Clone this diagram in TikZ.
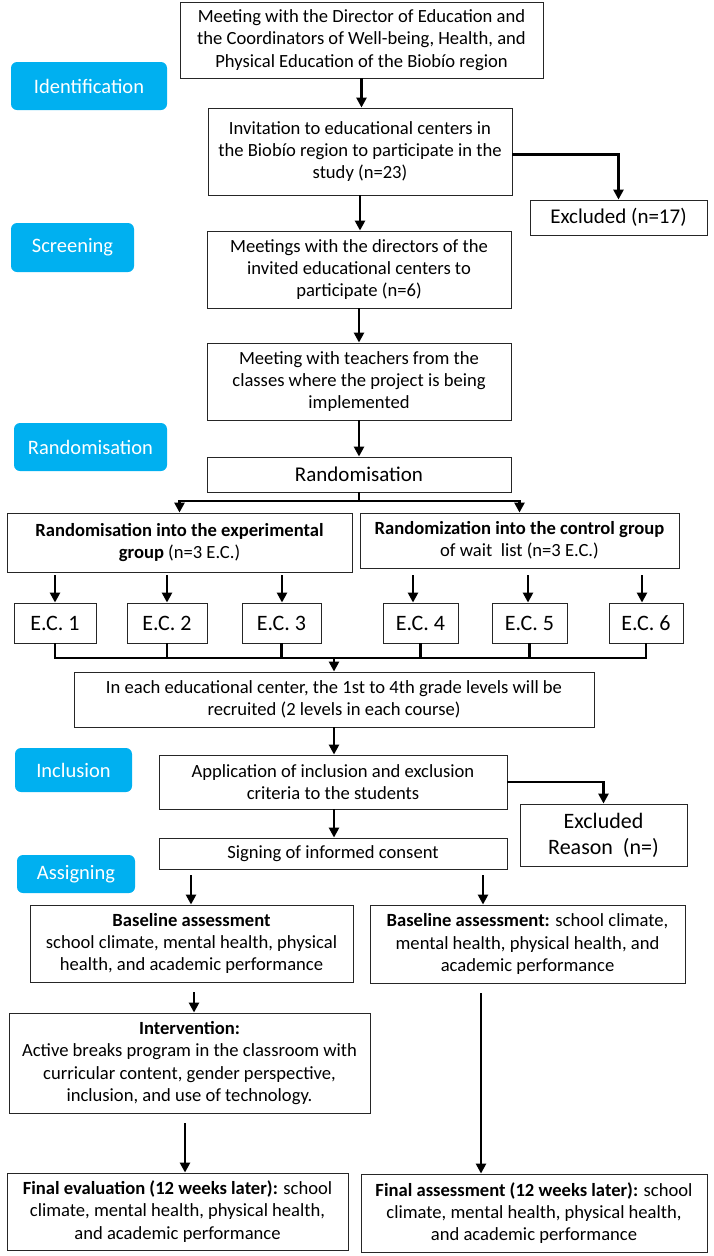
\documentclass[tikz,border=0pt]{standalone}
\usepackage{fontspec}
\setmainfont{Carlito}
\usetikzlibrary{arrows.meta,calc}
\tikzset{
  box/.style={draw=black!85,line width=0.9pt,align=center,inner sep=1pt,font=\fontsize{18.6}{22.2}\selectfont},
  badge/.style={fill=badgeblue,rounded corners=6pt,text=white,align=center,font=\fontsize{20.5}{22}\selectfont},
  ecbox/.style={box,minimum height=40pt,font=\fontsize{22}{24}\selectfont},
  conn/.style={line width=2.6pt,-{Triangle[length=10pt,width=10pt]}},
  plain/.style={line width=2.6pt},
}
\definecolor{badgeblue}{HTML}{00B0F0}
\begin{document}
\begin{tikzpicture}[x=1pt,y=-1pt]
\useasboundingbox (0,0) rectangle (713,1256);
% badges
\node[badge,minimum width=156pt,minimum height=48pt] (b1) at (89,86) {Identification};
\node[badge,minimum width=123pt,minimum height=49pt] (b2) at (72.5,247.5) {Screening};
\node[badge,minimum width=153pt,minimum height=48pt] (b3) at (90.5,447) {Randomisation};
\node[badge,minimum width=117pt,minimum height=44pt] (b4) at (73.5,770) {Inclusion};
\node[badge,minimum width=118pt,minimum height=38pt] (b5) at (76,874) {Assigning};
% boxes
\node[box,minimum width=363pt,minimum height=76pt] (top) at (361.5,40) {Meeting with the Director of Education and\\the Coordinators of Well-being, Health, and\\Physical Education of the Biobío region};
\node[box,minimum width=304pt,minimum height=87pt] (invite) at (360,151.5) {Invitation to educational centers in\\the Biobío region to participate in the\\study (n=23)};
\node[box,minimum width=177pt,minimum height=35pt,font=\fontsize{21}{24}\selectfont] (excl1) at (618.5,217.5) {Excluded (n=17)};
\node[box,minimum width=304pt,minimum height=77pt] (meet) at (359,269.5) {Meetings with the directors of the\\invited educational centers to\\participate (n=6)};
\node[box,minimum width=304pt,minimum height=77pt] (teach) at (359,381.5) {Meeting with teachers from the\\classes where the project is being\\implemented};
\node[box,minimum width=304pt,minimum height=35pt,font=\fontsize{21}{24}\selectfont] (rand) at (359,474.5) {Randomisation};
\node[box,minimum width=345pt,minimum height=59pt] (exp) at (179.5,542.5) {\textbf{Randomisation into the experimental}\\\textbf{group} (n=3 E.C.)};
\node[box,minimum width=319pt,minimum height=55pt] (ctrl) at (519.5,540.5) {\textbf{Randomization into the control group}\\of wait\ \ list (n=3 E.C.)};
\node[ecbox,minimum width=82pt] (ec1) at (55,623) {E.C. 1};
\node[ecbox,minimum width=80pt] (ec2) at (167,623) {E.C. 2};
\node[ecbox,minimum width=79pt] (ec3) at (281.5,623) {E.C. 3};
\node[ecbox,minimum width=75pt] (ec4) at (420.5,623) {E.C. 4};
\node[ecbox,minimum width=75pt] (ec5) at (529.5,623) {E.C. 5};
\node[ecbox,minimum width=74pt] (ec6) at (646,623) {E.C. 6};
\node[box,minimum width=520pt,minimum height=55pt] (grade) at (334,699.5) {In each educational center, the 1st to 4th grade levels will be\\recruited (2 levels in each course)};
\node[box,minimum width=348pt,minimum height=54pt] (app) at (333,782) {Application of inclusion and exclusion\\criteria to the students};
\node[box,minimum width=167pt,minimum height=62pt,font=\fontsize{22}{26}\selectfont] (excl2) at (603.5,835) {Excluded\\Reason\ \ (n=)};
\node[box,minimum width=348pt,minimum height=31pt] (sign) at (333,853.5) {Signing of informed consent};
\node[box,minimum width=323pt,minimum height=77pt] (base1) at (191.5,943.5) {\textbf{Baseline assessment}\\school climate, mental health, physical\\health, and academic performance};
\node[box,minimum width=315pt,minimum height=78pt] (base2) at (527.5,944) {\textbf{Baseline assessment:} school climate,\\mental health, physical health, and\\academic performance};
\node[box,minimum width=361pt,minimum height=100pt] (interv) at (189.5,1063) {\textbf{Intervention:}\\Active breaks program in the classroom with\\curricular content, gender perspective,\\inclusion, and use of technology.};
\node[box,minimum width=341pt,minimum height=77pt] (final1) at (177.5,1211.5) {\textbf{Final evaluation (12 weeks later):} school\\climate, mental health, physical health,\\and academic performance};
\node[box,minimum width=346pt,minimum height=78pt] (final2) at (534,1213) {\textbf{Final assessment (12 weeks later):} school\\climate, mental health, physical health,\\and academic performance};
% connectors
\draw[conn] (top.south) -- (top.south |- invite.north);
\draw[conn] ($(invite.east)+(0,3)$) -| (excl1.north);
\draw[conn] (invite.south) -- (invite.south |- meet.north);
\draw[conn] (meet.south) -- (teach.north);
\draw[conn] (teach.south) -- (rand.north);
\coordinate (split) at (359,501);
\draw[plain] (rand.south) -- (split);
\draw[conn] (split) -| (exp.north);
\draw[conn] (split) -| (ctrl.north);
\foreach \e/\x in {ec1/55,ec2/167,ec3/282,ec4/413,ec5/528,ec6/642}{
  \coordinate (s\e) at (\x,575);
  \draw[conn] (s\e) -- (s\e |- \e.north);
}
\coordinate (join) at (334,658);
\foreach \e in {ec1,ec2,ec3,ec4,ec5,ec6}{
  \draw[plain] (\e.south) -- (\e.south |- join);
}
\draw[plain,line cap=rect] (ec1.south |- join) -- (ec6.south |- join);
\draw[conn] (join) -- (join |- grade.north);
\draw[conn] (join |- grade.south) -- (join |- app.north);
\draw[conn] (app.east) -| (excl2.north);
\draw[conn] (join |- app.south) -- (join |- sign.north);
\coordinate (a1) at (191,875);
\coordinate (a2) at (483,875);
\draw[conn] (a1) -- (a1 |- base1.north);
\draw[conn] (a2) -- (a2 |- base2.north);
\coordinate (a3) at (194,992);
\draw[conn] (a3) -- (a3 |- interv.north);
\coordinate (a4) at (185,1123);
\draw[conn] (a4) -- (a4 |- final1.north);
\coordinate (a5) at (481,993);
\draw[conn] (a5) -- (a5 |- final2.north);
\end{tikzpicture}
\end{document}
